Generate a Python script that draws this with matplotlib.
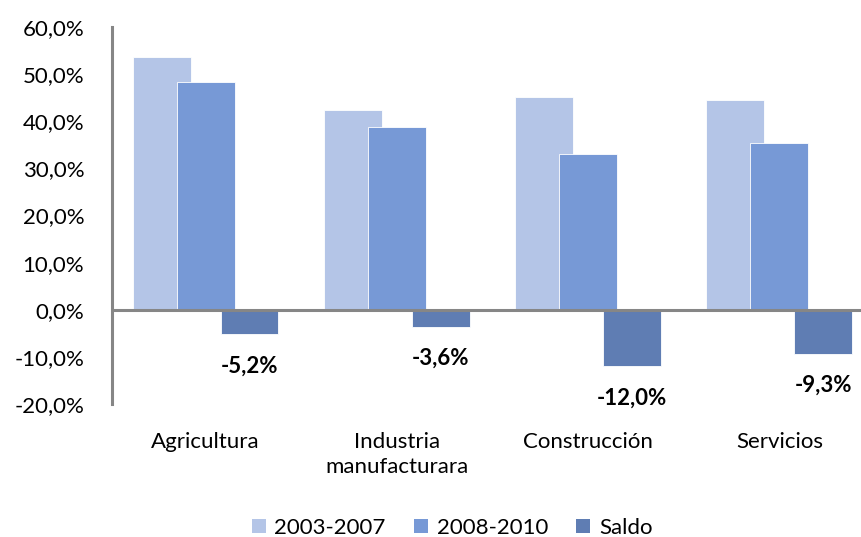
import matplotlib
matplotlib.use("Agg")
import matplotlib.pyplot as plt
import numpy as np
from matplotlib.patches import Patch

categories = ["Agricultura", "Industria\nmanufacturara", "Construcción", "Servicios"]
series_names = ["2003-2007", "2008-2010", "Saldo"]
v_2003_2007 = [53.7, 42.4, 45.2, 44.6]
v_2008_2010 = [48.4, 38.8, 33.1, 35.3]
v_saldo = [-5.2, -3.6, -12.0, -9.3]
yticks = [-20, -10, 0, 10, 20, 30, 40, 50, 60]

colors = ["#B4C5E7", "#7799D6", "#5F7DB3"]

plt.rcParams['font.family'] = ['Lato', 'DejaVu Sans']

fig = plt.figure(figsize=(8.61, 5.37), dpi=100)
ax = fig.add_axes([112 / 861, 0.2477, 1 - 112 / 861, 0.702])

x = np.arange(len(categories))
width = 0.303
step = 0.230
all_vals = [v_2003_2007, v_2008_2010, v_saldo]
for i, (vals, c) in enumerate(zip(all_vals, colors)):
    ax.bar(x + (i - 1) * step, vals, width=width, color=c, edgecolor="white",
           linewidth=0.6, zorder=2 + i)

for xi, v in zip(x, v_saldo):
    ax.annotate(f"{v:.1f}%".replace(".", ","), (xi + step, v),
                xytext=(0, -23), textcoords="offset points",
                ha="center", va="center", fontsize=16, fontweight="bold",
                color="black")

ax.set_xlim(-0.489, 3.427)
ax.set_ylim(-20, 60)
ax.set_yticks(yticks)
ax.set_yticklabels([f"{t:.1f}%".replace(".", ",") for t in yticks], fontsize=16)
ax.set_xticks(x)
ax.set_xticklabels(categories, fontsize=16, linespacing=1.35)
ax.tick_params(axis="y", length=0, pad=20)
ax.tick_params(axis="x", length=0, pad=20)
ax.axhline(0, color="#868686", linewidth=2.2, zorder=6)
for s in ["top", "right", "bottom"]:
    ax.spines[s].set_visible(False)
ax.spines["left"].set_color("#868686")
ax.spines["left"].set_linewidth(2.2)

handles = [Patch(facecolor=c, edgecolor="none") for c in colors]
fig.legend(handles, series_names, loc="center", bbox_to_anchor=(452 / 861, 0.017),
           ncol=3, frameon=False, fontsize=16, handlelength=0.63,
           handleheight=0.63, handletextpad=0.4, columnspacing=1.26,
           borderpad=0.2)

fig.savefig("out.png", dpi=100)
